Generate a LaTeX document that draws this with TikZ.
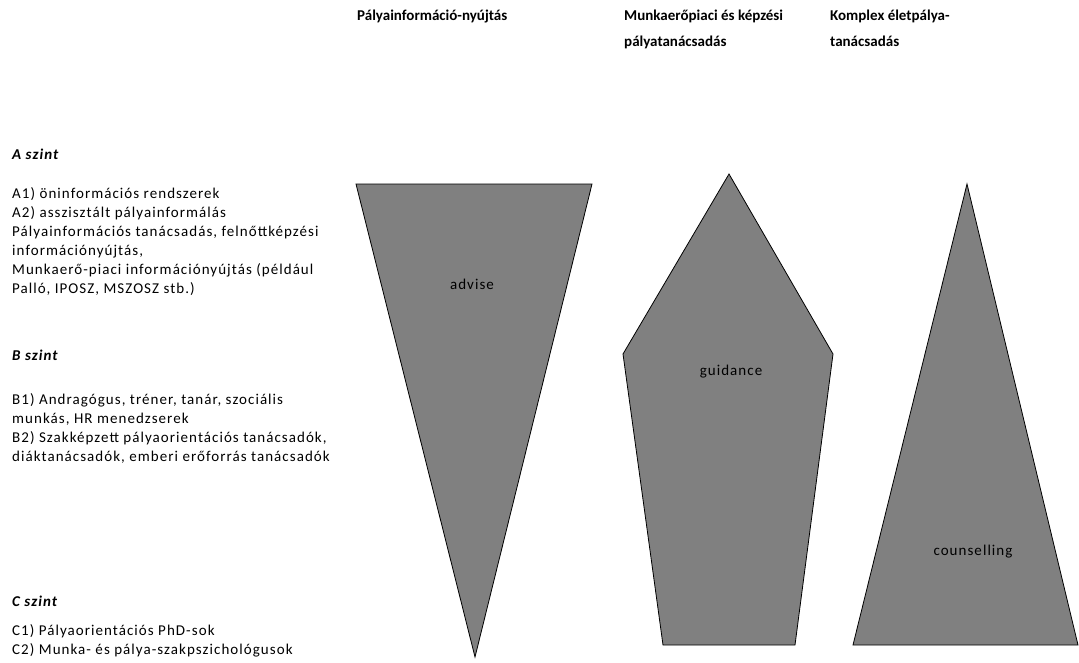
\documentclass[tikz,border=0pt]{standalone}
\usepackage{fontspec}
\setmainfont{Carlito}
\newcommand{\bodysize}{\fontsize{15}{19}\selectfont\addfontfeature{LetterSpace=7}}
\newcommand{\headsize}{\fontsize{15}{26}\selectfont}

\begin{document}
\begin{tikzpicture}[x=1pt, y=-1pt,
    band/.style={draw=black, fill=black!50, line width=0.8pt},
    lvl/.style={anchor=base west, inner sep=0pt, font=\bodysize\bfseries\itshape},
    items/.style={anchor=base west, inner sep=0pt, align=left, font=\bodysize},
    head/.style={anchor=base west, inner sep=0pt, align=left, font=\headsize\bfseries},
    tag/.style={inner sep=0pt, font=\bodysize}]
    \useasboundingbox (0,0) rectangle (1079,662);

    % Column headings (anchored on the last line)
    \node[head] (headInfo) at (357,20) {Pályainformáció-nyújtás};
    \node[head] (headGuide) at (624,46) {Munkaerőpiaci és képzési\\pályatanácsadás};
    \node[head] (headLife) at (830,46) {Komplex életpálya-\\tanácsadás};

    % Levels
    \node[lvl] (lvlA) at (12,159) {A szint};
    \node[items] (itemsA) at (12,293) {A1) öninformációs rendszerek\\A2) asszisztált pályainformálás\\Pályainformációs tanácsadás, felnőttképzési\\információnyújtás,\\Munkaerő-piaci információnyújtás (például\\Palló, IPOSZ, MSZOSZ stb.)};
    \node[lvl] (lvlB) at (12,360) {B szint};
    \node[items] (itemsB) at (12,461) {B1) Andragógus, tréner, tanár, szociális\\munkás, HR menedzserek\\B2) Szakképzett pályaorientációs tanácsadók,\\diáktanácsadók, emberi erőforrás tanácsadók};
    \node[lvl] (lvlC) at (12,606) {C szint};
    \node[items] (itemsC) at (12,654) {C1) Pályaorientációs PhD-sok\\C2) Munka- és pálya-szakpszichológusok};

    % Shapes
    \draw[band] (356,184) -- (592,184) -- (475,657) -- cycle;
    \draw[band] (729,174) -- (833,354) -- (795,645) -- (663,645) -- (623,354) -- cycle;
    \draw[band] (967,184) -- (1078,645) -- (853,645) -- cycle;

    % Labels
    \node[tag] (advise) at (472,284) {advise};
    \node[tag] (guidance) at (731,372) {guidance};
    \node[tag] (counselling) at (973,552) {counselling};
\end{tikzpicture}
\end{document}
